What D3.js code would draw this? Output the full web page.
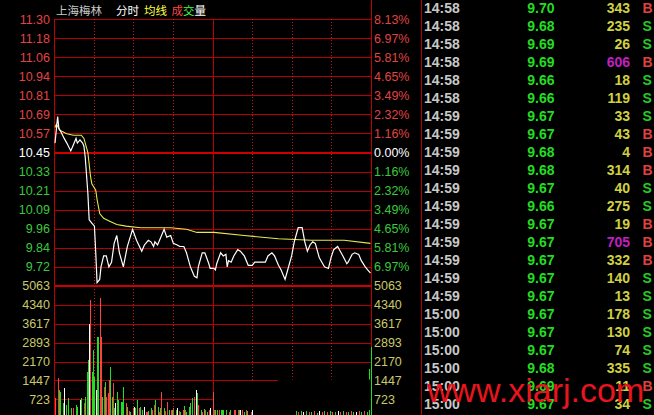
<!DOCTYPE html>
<html><head><meta charset="utf-8">
<script src="https://cdn.jsdelivr.net/npm/d3@7"></script>
<style>html,body{margin:0;padding:0;background:#000;overflow:hidden}</style>
</head><body>
<svg id="c" width="654" height="415"></svg>
<script>
// ---------------- data ----------------
const stockName = "上海梅林";
const preClose = 10.45;
const priceLabels = ["11.30","11.18","11.06","10.94","10.81","10.69","10.57","10.45","10.33","10.21","10.09","9.96","9.84","9.72"];
const pctLabels = ["8.13%","6.97%","5.81%","4.65%","3.49%","2.32%","1.16%","0.00%","1.16%","2.32%","3.49%","4.65%","5.81%","6.97%"];
const volLabels = [5063,4340,3617,2893,2170,1447,723];

// [minute index, price]
const priceSeries = [[0,10.51],[2,10.68],[3,10.60],[4,10.59],[7,10.54],[9,10.51],[12,10.46],[14,10.50],[16,10.54],[17,10.51],[19,10.53],[21,10.51],[22,10.49],[23,10.42],[25,10.19],[26,10.02],[27,10.01],[28,10.00],[30,9.98],[31,9.81],[32,9.62],[34,9.64],[35,9.72],[37,9.79],[39,9.79],[41,9.72],[43,9.75],[45,9.87],[47,9.92],[49,9.81],[52,9.72],[55,9.85],[59,9.96],[62,9.89],[66,9.82],[68,9.86],[71,9.89],[73,9.88],[75,9.85],[76,9.88],[78,9.86],[80,9.90],[83,9.96],[85,9.91],[88,9.92],[90,9.87],[93,9.86],[95,9.85],[98,9.85],[100,9.81],[103,9.72],[106,9.66],[108,9.65],[109,9.72],[112,9.81],[114,9.81],[117,9.74],[118,9.71],[121,9.71],[122,9.70],[123,9.74],[126,9.81],[128,9.79],[130,9.80],[131,9.72],[132,9.76],[134,9.75],[136,9.79],[139,9.83],[141,9.82],[144,9.79],[147,9.73],[150,9.73],[152,9.75],[155,9.75],[158,9.75],[160,9.75],[162,9.79],[165,9.81],[167,9.79],[170,9.73],[172,9.70],[175,9.64],[177,9.70],[180,9.79],[182,9.88],[185,9.97],[188,9.97],[190,9.88],[192,9.82],[194,9.86],[196,9.88],[198,9.87],[200,9.81],[201,9.78],[203,9.75],[205,9.72],[208,9.71],[210,9.78],[212,9.83],[215,9.85],[217,9.82],[219,9.79],[222,9.74],[223,9.75],[226,9.80],[228,9.81],[231,9.80],[233,9.76],[236,9.72],[238,9.70],[240,9.68]];

// [minute index, average price]
const avgSeries = [[0,10.61],[1,10.63],[4,10.59],[9,10.57],[14,10.56],[20,10.56],[22,10.54],[23,10.51],[25,10.45],[27,10.30],[28,10.25],[31,10.21],[32,10.15],[34,10.06],[37,10.03],[42,10.01],[47,9.99],[54,9.98],[65,9.97],[75,9.97],[88,9.97],[100,9.96],[108,9.94],[121,9.94],[144,9.92],[170,9.90],[195,9.89],[220,9.89],[240,9.87]];

// [minute index, volume, direction (1 up, -1 down, 0 flat)]
const volSeries = [[0,764,1],[2,1560,1],[3,1079,-1],[4,1016,-1],[6,573,-1],[7,1142,0],[8,509,-1],[10,763,-1],[12,383,-1],[14,383,1],[16,509,-1],[17,446,-1],[19,699,0],[20,763,-1],[22,573,1],[23,826,-1],[24,1776,-1],[25,2219,-1],[26,3612,0],[27,4499,1],[28,1776,-1],[29,2599,-1],[30,1586,-1],[31,1079,0],[32,3106,-1],[33,3106,-1],[34,4600,1],[35,3106,1],[36,826,-1],[37,1206,1],[38,1396,-1],[39,826,1],[40,953,1],[41,1459,1],[42,1966,-1],[43,826,-1],[44,1333,1],[45,383,-1],[46,573,0],[47,1016,-1],[48,699,-1],[50,636,-1],[51,636,-1],[52,1206,-1],[54,573,1],[55,446,-1],[56,300,1],[57,256,-1],[59,383,1],[60,446,0],[61,383,-1],[62,699,-1],[64,383,1],[65,446,-1],[66,319,-1],[68,420,0],[69,256,1],[70,256,1],[71,300,-1],[73,383,-1],[74,319,1],[75,509,1],[76,699,-1],[78,446,-1],[79,256,1],[80,383,-1],[81,1016,1],[83,383,-1],[84,300,1],[85,636,1],[87,319,-1],[88,319,1],[89,319,-1],[90,383,1],[92,319,-1],[93,383,0],[94,294,1],[95,256,-1],[97,319,1],[98,471,-1],[99,319,1],[100,256,-1],[102,446,-1],[103,573,-1],[104,763,-1],[106,826,1],[107,1079,0],[108,953,-1],[109,509,1],[111,319,-1],[112,256,1],[113,345,-1],[114,319,1],[116,256,-1],[117,319,1],[118,383,0],[120,1016,1],[121,573,1],[122,890,-1],[123,319,-1],[125,383,1],[126,319,-1],[127,319,-1],[128,509,-1],[130,446,-1],[132,256,1],[133,319,-1],[136,383,1],[137,383,1],[139,383,1],[140,319,-1],[141,345,0],[142,319,1],[144,256,-1],[145,319,1],[146,294,-1],[149,256,1],[150,319,0],[151,218,-1],[155,240,1],[160,200,-1],[165,260,1],[170,230,-1],[175,280,1],[181,220,-1],[183,300,-1],[185,250,1],[187,280,-1],[189,230,0],[191,300,-1],[193,260,1],[195,240,-1],[197,280,1],[199,220,-1],[201,300,0],[203,250,1],[205,270,-1],[207,230,1],[209,290,-1],[211,240,1],[213,260,-1],[215,280,0],[217,230,1],[219,300,-1],[221,250,1],[223,240,-1],[225,280,1],[227,260,-1],[229,230,0],[231,290,1],[233,250,-1],[235,270,1],[237,240,-1],[239,1900,-1],[240,2720,-1]];

// tick-by-tick table
const tradeTime = ["14:58","14:58","14:58","14:58","14:58","14:58","14:59","14:59","14:59","14:59","14:59","14:59","14:59","14:59","14:59","14:59","14:59","15:00","15:00","15:00","15:00","15:00","15:00"];
const tradePrice = [9.70,9.68,9.69,9.69,9.66,9.66,9.67,9.67,9.68,9.68,9.67,9.66,9.67,9.67,9.67,9.67,9.67,9.67,9.67,9.67,9.68,9.69,9.67];
const tradeVol = [343,235,26,606,18,119,33,43,4,314,40,275,19,705,332,140,13,178,130,74,335,11,34];
const tradeSide = ["B","S","S","B","S","S","S","B","B","B","S","S","B","B","B","S","S","S","S","S","S","B","S"];
const watermark = "www.xiarj.com";

// ---------------- drawing ----------------
const svg = d3.select("#c");
svg.append("rect").attr("width",654).attr("height",415).attr("fill","#000");

const L = 54, R = 371, T = 19.3, PB = 285.7, VB = 418.4;
const x = d3.scaleLinear().domain([0,240]).range([55,370.5]);
const gx = d3.scaleLinear().domain([0,240]).range([L,R]);
const y = d3.scaleLinear().domain([9.60,11.30]).range([PB,T]);
const yv = d3.scaleLinear().domain([0,5063]).range([VB,PB]);
const step = (11.30 - preClose) / 7;
const gridPrices = d3.range(15).map(i => 11.30 - i*step);
const px = v => Math.round(v) + 0.5;

const RED = "#e04444", GREEN = "#3cc83c", GRID = "#b40000", VOLC = "#c8c86a";
const font = "'Liberation Sans', Arial, sans-serif";

const grid = svg.append("g").attr("shape-rendering","crispEdges");
// horizontal price lines
gridPrices.forEach((p,i) => {
  const thick = (i === 7 || i === 14);
  grid.append("line").attr("x1",L).attr("x2",R)
    .attr("y1", thick ? Math.round(y(p)) : px(y(p)))
    .attr("y2", thick ? Math.round(y(p)) : px(y(p)))
    .attr("stroke", thick ? "#cc0000" : GRID).attr("stroke-width", thick ? 2 : 1);
});
// horizontal volume lines
volLabels.slice(1).forEach(v => {
  grid.append("line").attr("x1",L).attr("x2",R).attr("y1",px(yv(v))).attr("y2",px(yv(v)))
    .attr("stroke",GRID).attr("stroke-width",1);
});
// vertical lines
d3.range(0,241,30).forEach(m => {
  const solid = (m === 0 || m === 120 || m === 240);
  const xx = px(gx(m));
  grid.append("line").attr("x1",xx).attr("x2",xx)
    .attr("y1", m === 240 ? 0 : T).attr("y2",415)
    .attr("stroke", solid ? "#c00000" : "#d01818").attr("stroke-width",1)
    .attr("stroke-dasharray", solid ? null : "1,2");
});
// table separator
grid.append("line").attr("x1",421.5).attr("x2",421.5).attr("y1",0).attr("y2",415)
  .attr("stroke","#b40000").attr("stroke-width",1);

// header
const hdr = svg.append("text").attr("y",14.5).attr("font-family","'Noto Sans CJK SC', sans-serif").attr("font-size",11.5);
hdr.append("tspan").attr("x",56).attr("fill","#c8c8c8").text(stockName);
hdr.append("tspan").attr("x",116).attr("fill","#ffffff").text("分时");
hdr.append("tspan").attr("x",144).attr("fill","#ffff44").text("均线");
hdr.append("tspan").attr("x",171.5).attr("fill","#ff4444").text("成");
hdr.append("tspan").attr("fill","#44ff44").text("交");
hdr.append("tspan").attr("fill","#ffffff").text("量");

// axis labels
const colFor = i => i < 7 ? RED : (i === 7 ? "#ffffff" : GREEN);
const lab = svg.append("g").attr("font-family",font).attr("font-size",12.5);
priceLabels.forEach((t,i) => {
  lab.append("text").attr("x",50).attr("y",y(gridPrices[i])).attr("dy","0.36em")
    .attr("text-anchor","end").attr("fill",colFor(i)).text(t);
  lab.append("text").attr("x",374).attr("y",y(gridPrices[i])).attr("dy","0.36em")
    .attr("fill",colFor(i)).text(pctLabels[i]);
});
volLabels.forEach(v => {
  lab.append("text").attr("x",50).attr("y",yv(v)).attr("dy","0.36em")
    .attr("text-anchor","end").attr("fill",VOLC).text(v);
  lab.append("text").attr("x",374).attr("y",yv(v)).attr("dy","0.36em")
    .attr("fill",VOLC).text(v);
});

// volume bars
const barCol = d => d[2] > 0 ? "#ff4040" : (d[2] < 0 ? "#22dd22" : "#ffffff");
svg.append("g").attr("shape-rendering","crispEdges").selectAll("rect").data(volSeries).join("rect")
  .attr("x", d => Math.round(x(d[0])))
  .attr("width",1)
  .attr("y", d => yv(d[1]))
  .attr("height", d => VB - yv(d[1]))
  .attr("fill", barCol);

// erased patch in the volume panel
const mask = svg.append("g").attr("fill","#000");
mask.append("rect").attr("x",278).attr("y",379.5).attr("width",92.5).attr("height",30.5);
mask.append("rect").attr("x",214).attr("y",381.2).attr("width",64).attr("height",28.8);
mask.append("rect").attr("x",254).attr("y",409).attr("width",40).attr("height",6);

// average and price lines
const line = d3.line().x(d => x(d[0])).y(d => y(d[1]));
svg.append("path").datum(avgSeries).attr("d",line).attr("fill","none")
  .attr("stroke","#e8e850").attr("stroke-width",1.1);
svg.append("path").datum(priceSeries).attr("d",line).attr("fill","none")
  .attr("stroke","#ffffff").attr("stroke-width",1.2);

// tick table
const tb = svg.append("g").attr("font-family",font).attr("font-size",14).attr("font-weight","bold");
tradeTime.forEach((t,i) => {
  const by = 13.3 + i*18;
  tb.append("text").attr("x",424).attr("y",by).attr("fill","#c8c8c8").text(t);
  tb.append("text").attr("x",554.5).attr("y",by).attr("text-anchor","end").attr("fill","#22dd22").text(tradePrice[i].toFixed(2));
  tb.append("text").attr("x",630).attr("y",by).attr("text-anchor","end")
    .attr("fill", tradeVol[i] >= 500 ? "#c020c0" : "#d0d040").text(tradeVol[i]);
  tb.append("text").attr("x",642.5).attr("y",by)
    .attr("fill", tradeSide[i] === "B" ? "#e04040" : "#22cc22").text(tradeSide[i]);
});

// watermark
svg.append("text").attr("x",427).attr("y",402).attr("font-family",font).attr("font-size",34)
  .attr("fill","#e8141e").text(watermark);
</script>
</body></html>
